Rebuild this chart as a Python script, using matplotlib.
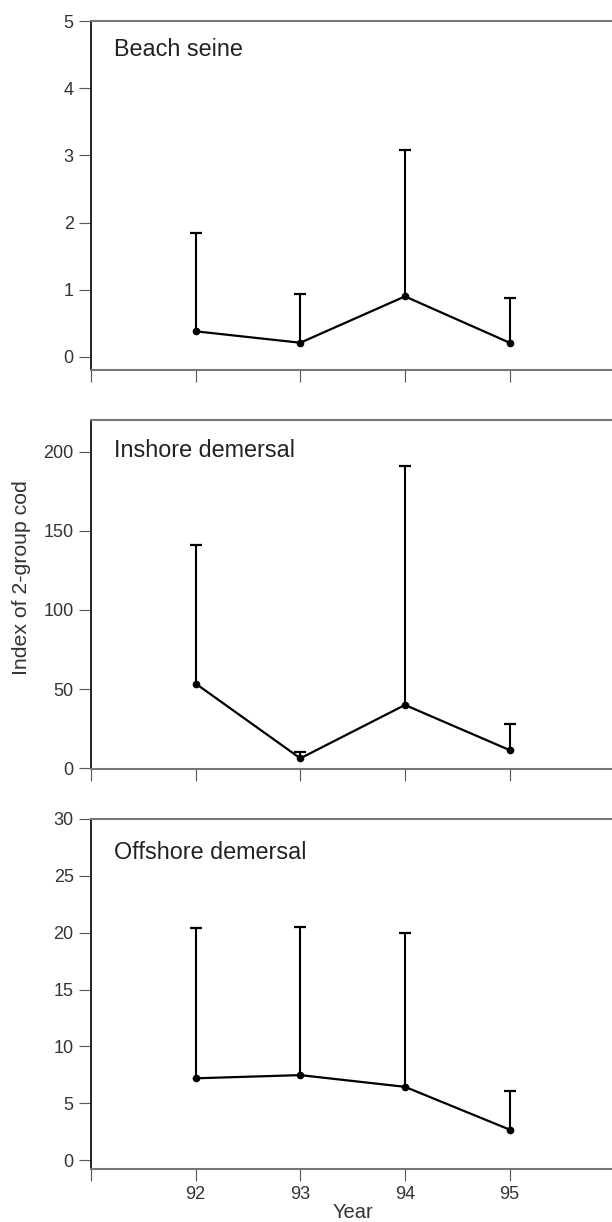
import numpy as np
import matplotlib
matplotlib.use('Agg')
import matplotlib.pyplot as plt

# values (mean and top of the error bar)
years = [92, 93, 94, 95]
tick_years = [91, 92, 93, 94, 95]
tick_year_labels = ['', '92', '93', '94', '95']

panel_names = ['Beach seine', 'Inshore demersal', 'Offshore demersal']

beach_mean = [0.38, 0.21, 0.90, 0.21]
beach_upper = [1.84, 0.94, 3.08, 0.88]

inshore_mean = [53.5, 6.3, 40.0, 11.5]
inshore_upper = [141.0, 10.5, 191.0, 28.0]

offshore_mean = [7.2, 7.48, 6.45, 2.69]
offshore_upper = [20.4, 20.5, 19.97, 6.07]

beach_ticks = [0, 1, 2, 3, 4, 5]
inshore_ticks = [0, 50, 100, 150, 200]
offshore_ticks = [0, 5, 10, 15, 20, 25, 30]

plt.rcParams['font.family'] = ['Liberation Sans', 'DejaVu Sans']

fig = plt.figure(figsize=(6.12, 12.22), dpi=100)

#axes boxes in figure fractions [left, bottom, width, height]
boxes = [[0.1487, 0.697, 0.855, 0.2858],
         [0.1487, 0.3705, 0.855, 0.2858],
         [0.1487, 0.0436, 0.855, 0.2862]]
ylims = [(-0.2, 5), (-0.6, 220), (-0.75, 30)]
label_y = [0.90, 0.894, 0.886]

means = [beach_mean, inshore_mean, offshore_mean]
uppers = [beach_upper, inshore_upper, offshore_upper]
yticks = [beach_ticks, inshore_ticks, offshore_ticks]

for i in range(3):
    ax = fig.add_axes(boxes[i])
    m = np.array(means[i])
    u = np.array(uppers[i])

    #upper error bars: stem + cap
    ax.vlines(years, m, u, color='black', linewidth=1.5, zorder=2)
    ax.plot(years, u, linestyle='none', marker='_', markersize=9,
            markeredgewidth=1.6, color='black', zorder=2)
    #mean line with dots
    ax.plot(years, m, color='black', linewidth=1.6, marker='o',
            markersize=4.5, zorder=3)

    ax.set_xlim(91, 96)
    ax.set_ylim(*ylims[i])
    ax.set_yticks(yticks[i])
    ax.set_xticks(tick_years)
    if i == 2:
        ax.set_xticklabels(tick_year_labels)
    else:
        ax.set_xticklabels([''] * len(tick_years))

    ax.spines['right'].set_visible(False)
    ax.spines['left'].set_color('black')
    ax.spines['left'].set_linewidth(1.2)
    for s in ['top', 'bottom']:
        ax.spines[s].set_color('#777777')
        ax.spines[s].set_linewidth(1.5)

    ax.tick_params(axis='both', direction='out', length=8.5, width=0.8,
                   color='#555555', labelcolor='#333333', labelsize=13, pad=4)

    ax.text(0.043, label_y[i], panel_names[i], transform=ax.transAxes,
            fontsize=16.8, color='#222222', va='baseline', ha='left')

    if i == 2:
        ax.set_xlabel('Year', fontsize=14.5, color='#333333', labelpad=0)

fig.text(22 / 612, 1 - 578 / 1222, 'Index of 2-group cod', rotation=90,
         fontsize=15.3, color='#333333', ha='center', va='center')

fig.savefig('out.png', dpi=100)
